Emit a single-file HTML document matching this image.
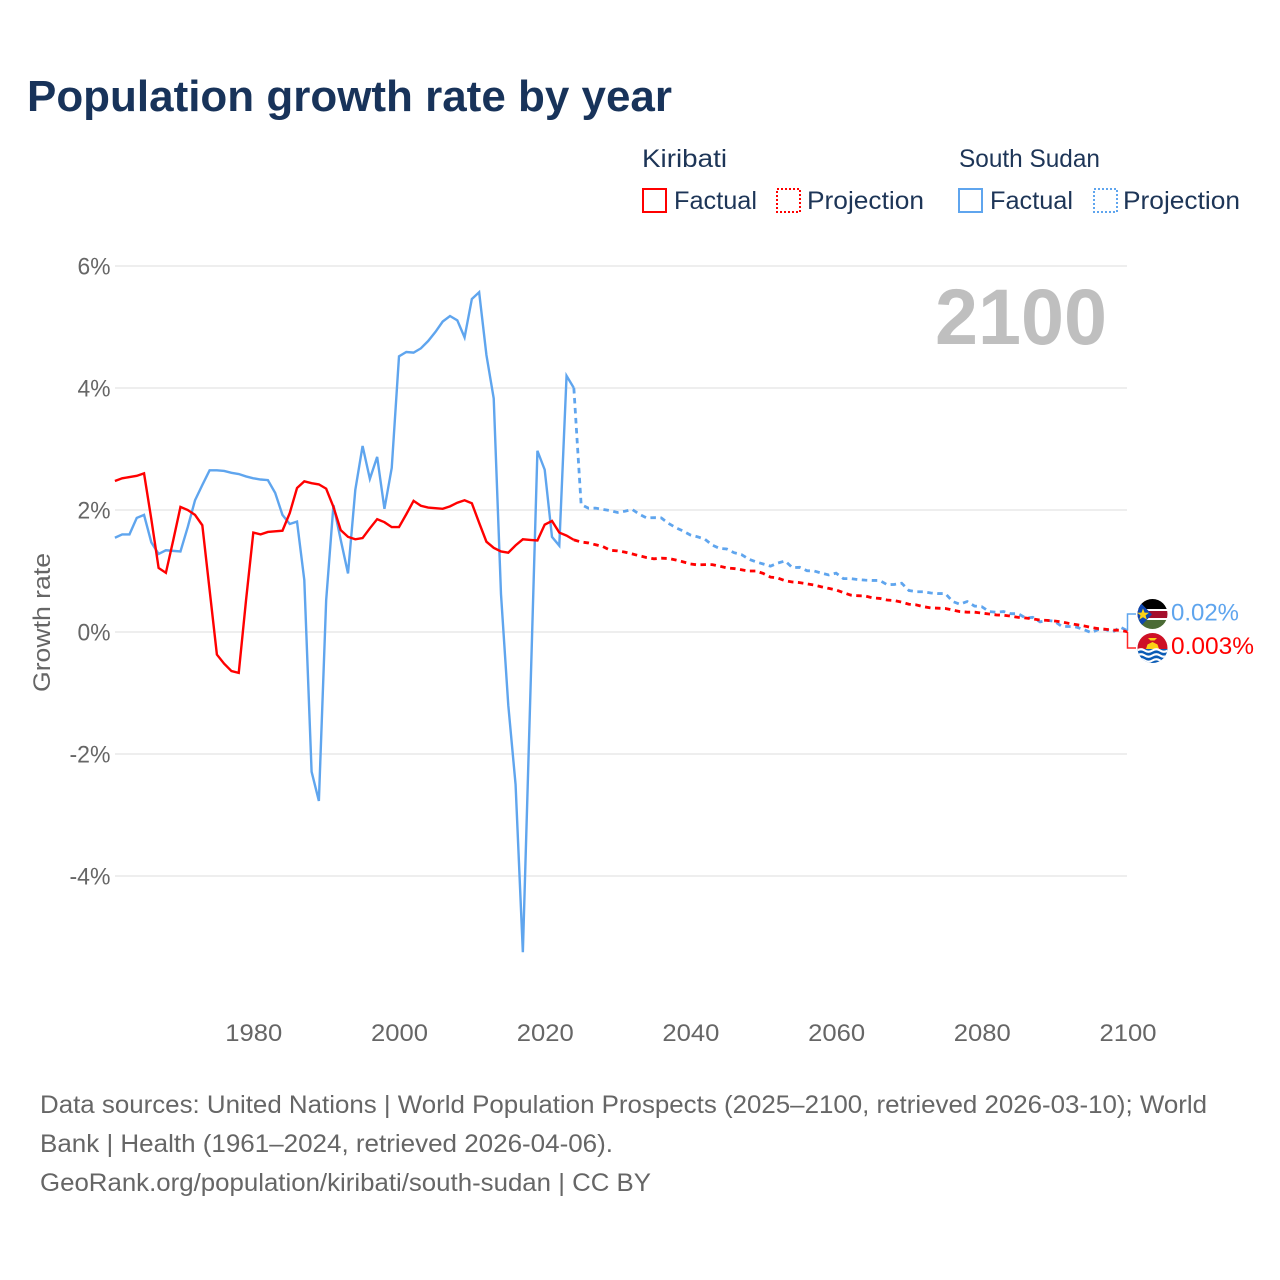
<!DOCTYPE html>
<html lang="en">
<head>
<meta charset="utf-8">
<title>Population growth rate by year</title>
<style>
html,body{margin:0;padding:0;background:#fff;width:1280px;height:1280px;overflow:hidden}
svg{display:block}
text{font-family:"Liberation Sans",sans-serif}
</style>
</head>
<body>
<svg id="chart" xmlns="http://www.w3.org/2000/svg" width="1280" height="1280" viewBox="0 0 1280 1280">
  <rect x="0" y="0" width="1280" height="1280" fill="#fff"/>
  <text x="27" y="111" font-size="44" font-weight="700" fill="#18335a" textLength="645" lengthAdjust="spacingAndGlyphs">Population growth rate by year</text>

  <g font-size="25" fill="#1d3557">
    <text x="642" y="167" textLength="85" lengthAdjust="spacingAndGlyphs">Kiribati</text>
    <rect x="643" y="189" width="23" height="23" fill="none" stroke="#ff0000" stroke-width="2"/>
    <text x="674" y="209" textLength="83" lengthAdjust="spacingAndGlyphs">Factual</text>
    <rect x="777" y="189" width="23" height="23" fill="none" stroke="#ff0000" stroke-width="2" stroke-dasharray="2 2"/>
    <text x="807" y="209" textLength="117" lengthAdjust="spacingAndGlyphs">Projection</text>
    <text x="959" y="167" textLength="141" lengthAdjust="spacingAndGlyphs">South Sudan</text>
    <rect x="959" y="189" width="23" height="23" fill="none" stroke="#5fa5ee" stroke-width="2"/>
    <text x="990" y="209" textLength="83" lengthAdjust="spacingAndGlyphs">Factual</text>
    <rect x="1094" y="189" width="23" height="23" fill="none" stroke="#5fa5ee" stroke-width="2" stroke-dasharray="2 2"/>
    <text x="1123" y="209" textLength="117" lengthAdjust="spacingAndGlyphs">Projection</text>
  </g>

  <g id="grid"></g>
  <g id="yTicks"></g>
  <g id="xTicks"></g>
  <text transform="translate(50,622.5) rotate(-90)" text-anchor="middle" font-size="24" fill="#666" textLength="139" lengthAdjust="spacingAndGlyphs">Growth rate</text>
  <text id="yearLabel" x="1107" y="344" text-anchor="end" font-size="79" font-weight="700" fill="#bfbfbf" textLength="172" lengthAdjust="spacingAndGlyphs">2100</text>

  <g id="series"></g>

  <g id="endLabels">
    <path id="connectorSS" fill="none" stroke="#5fa5ee" stroke-width="1.5"/>
    <path id="connectorKI" fill="none" stroke="#ff0000" stroke-opacity="0.85" stroke-width="1.5"/>
    <defs>
      <clipPath id="clipSS"><circle cx="1152.5" cy="614" r="15"/></clipPath>
      <clipPath id="clipKI"><circle cx="1152.5" cy="648" r="15"/></clipPath>
    </defs>
    <g clip-path="url(#clipSS)">
      <rect x="1137" y="599" width="31" height="10" fill="#000"/>
      <rect x="1137" y="609" width="31" height="2" fill="#fff"/>
      <rect x="1137" y="611" width="31" height="7" fill="#a50f2d"/>
      <rect x="1137" y="618" width="31" height="2" fill="#fff"/>
      <rect x="1137" y="620" width="31" height="10" fill="#4b6b35"/>
      <polygon points="1137,599 1152,614.5 1137,630" fill="#0f47af"/>
      <polygon points="1143,608.5 1144.6,612.6 1149,612.8 1145.6,615.4 1146.8,619.5 1143,617.2 1139.4,619.5 1140.5,615.4 1137.2,612.8 1141.5,612.6" fill="#fcd116"/>
    </g>
    <g clip-path="url(#clipKI)">
      <rect x="1137" y="633" width="31" height="17" fill="#ce1126"/>
      <rect x="1137" y="649" width="31" height="15" fill="#0a5bb5"/>
      <path d="M1146 649 L1159 649 L1157.5 644.5 L1152.5 642 L1147.5 644.5 Z" fill="#fcd116"/>
      <path d="M1148 638 L1157 638 L1154.5 640.5 L1150.5 640.5 Z" fill="#fcd116"/>
      <path d="M1137 650.5 q4 -2.5 7.7 0 t7.7 0 t7.7 0 t7.7 0" fill="none" stroke="#fff" stroke-width="2.2"/>
      <path d="M1137 655.5 q4 -2.5 7.7 0 t7.7 0 t7.7 0 t7.7 0" fill="none" stroke="#fff" stroke-width="2.2"/>
      <path d="M1137 660.5 q4 -2.5 7.7 0 t7.7 0 t7.7 0 t7.7 0" fill="none" stroke="#fff" stroke-width="2.2"/>
    </g>
    <text id="valueSS" x="1171" y="620.5" font-size="24" fill="#5fa5ee" textLength="68" lengthAdjust="spacingAndGlyphs"></text>
    <text id="valueKI" x="1171" y="654" font-size="24" fill="#ff0000" textLength="83" lengthAdjust="spacingAndGlyphs"></text>
  </g>

  <g font-size="25" fill="#666">
    <text x="40" y="1113" textLength="1167" lengthAdjust="spacingAndGlyphs">Data sources: United Nations | World Population Prospects (2025–2100, retrieved 2026-03-10); World</text>
    <text x="40" y="1152" textLength="573" lengthAdjust="spacingAndGlyphs">Bank | Health (1961–2024, retrieved 2026-04-06).</text>
    <text x="40" y="1191" textLength="611" lengthAdjust="spacingAndGlyphs">GeoRank.org/population/kiribati/south-sudan | CC BY</text>
  </g>
</svg>

<script>
const yTickValues = [6, 4, 2, 0, -2, -4];
const yTickLabels = ["6%", "4%", "2%", "0%", "-2%", "-4%"];
const xTickYears = [1980, 2000, 2020, 2040, 2060, 2080, 2100];
const xTickLabels = ["1980", "2000", "2020", "2040", "2060", "2080", "2100"];

const factualStartYear = 1961;
const projectionStartYear = 2024;

const kiribatiFactual = [
  2.475,2.52,2.54,2.56,2.60,
  1.85,1.05,0.97,1.50,2.05,
  2.00,1.92,1.75,0.69,-0.37,
  -0.52,-0.64,-0.67,0.52,1.63,
  1.60,1.64,1.65,1.66,1.95,
  2.36,2.47,2.44,2.42,2.35,
  2.05,1.67,1.56,1.52,1.54,
  1.70,1.85,1.80,1.72,1.72,
  1.93,2.15,2.07,2.04,2.03,
  2.02,2.06,2.12,2.16,2.11,
  1.79,1.48,1.38,1.32,1.30,
  1.42,1.52,1.51,1.50,1.76,
  1.82,1.63,1.58,1.51
];
const southSudanFactual = [
  1.545,1.60,1.60,1.87,1.92,
  1.47,1.28,1.34,1.33,1.32,
  1.72,2.16,2.41,2.65,2.65,
  2.64,2.61,2.59,2.55,2.52,
  2.50,2.49,2.28,1.92,1.77,
  1.81,0.85,-2.29,-2.77,0.52,
  2.08,1.51,0.96,2.33,3.05,
  2.51,2.87,2.02,2.69,4.52,
  4.59,4.58,4.65,4.77,4.92,
  5.09,5.18,5.11,4.83,5.46,
  5.57,4.54,3.83,0.62,-1.2,
  -2.5,-5.25,-1.15,2.97,2.66,
  1.56,1.415,4.2,4.0
];
const kiribatiProjection = [
  1.51,
  1.475,1.46,1.43,1.40,1.34,1.33,1.31,1.28,1.25,1.22,
  1.20,1.21,1.205,1.18,1.15,1.115,1.10,1.105,1.105,1.08,
  1.05,1.04,1.02,1.00,1.00,0.96,0.90,0.885,0.84,0.82,
  0.81,0.79,0.77,0.74,0.715,0.69,0.645,0.605,0.595,0.59,
  0.56,0.55,0.525,0.515,0.49,0.455,0.445,0.415,0.395,0.39,
  0.385,0.36,0.335,0.325,0.325,0.31,0.295,0.28,0.275,0.26,
  0.24,0.23,0.215,0.195,0.19,0.18,0.165,0.14,0.12,0.10,
  0.075,0.055,0.045,0.03,0.03,0.003
];
const southSudanProjection = [
  4.0,
  2.09,2.03,2.03,2.01,1.99,1.96,1.98,2.01,1.93,1.87,
  1.875,1.87,1.78,1.71,1.655,1.59,1.56,1.52,1.425,1.37,
  1.36,1.30,1.27,1.195,1.15,1.115,1.08,1.13,1.165,1.055,
  1.06,1.005,1.00,0.965,0.935,0.965,0.875,0.875,0.86,0.85,
  0.845,0.845,0.775,0.78,0.80,0.68,0.66,0.66,0.64,0.63,
  0.63,0.50,0.455,0.50,0.425,0.415,0.335,0.325,0.335,0.30,
  0.30,0.23,0.24,0.165,0.19,0.175,0.09,0.09,0.08,0.04,
  -0.01,0.04,0.04,0.00,0.08,0.02
];
const endValueLabels = { southSudan: "0.02%", kiribati: "0.003%" };

const NS = "http://www.w3.org/2000/svg";
const RED = "#ff0000";
const BLUE = "#5fa5ee";

function xScale(year) { return 114.9 + (year - 1961) * (1127.5 - 114.9) / 139; }
function yScale(v) { return 632 - v * 61; }

function svgEl(tag, parent) {
  const el = document.createElementNS(NS, tag);
  parent.appendChild(el);
  return el;
}

const gridGroup = document.getElementById("grid");
const yGroup = document.getElementById("yTicks");
const xGroup = document.getElementById("xTicks");
const seriesGroup = document.getElementById("series");

yTickValues.forEach(function (v, i) {
  const line = svgEl("line", gridGroup);
  
  
  line.setAttribute("x1", 115);
  line.setAttribute("x2", 1127);
  line.setAttribute("y1", yScale(v));
  line.setAttribute("y2", yScale(v));
  line.setAttribute("stroke", "#e9e9e9");
  line.setAttribute("stroke-width", "1.5");

  const label = svgEl("text", yGroup);
  
  
  label.setAttribute("x", 110.5);
  label.setAttribute("y", yScale(v) + 8.5);
  label.setAttribute("text-anchor", "end");
  label.setAttribute("font-size", "24");
  label.setAttribute("fill", "#666");
  label.setAttribute("textLength", yTickLabels[i].length === 3 ? 41 : 33);
  label.setAttribute("lengthAdjust", "spacingAndGlyphs");
  label.textContent = yTickLabels[i];
});

xTickYears.forEach(function (year, i) {
  const label = svgEl("text", xGroup);
  
  
  label.setAttribute("x", xScale(year) + 0.5);
  label.setAttribute("y", 1041);
  label.setAttribute("text-anchor", "middle");
  label.setAttribute("font-size", "24");
  label.setAttribute("fill", "#666");
  label.setAttribute("textLength", 57);
  label.setAttribute("lengthAdjust", "spacingAndGlyphs");
  label.textContent = xTickLabels[i];
});

function pointsFor(values, startYear) {
  return values.map(function (v, i) {
    return xScale(startYear + i).toFixed(2) + "," + yScale(v).toFixed(2);
  }).join(" ");
}

const southSudanFactualLine = svgEl("polyline", seriesGroup);


southSudanFactualLine.setAttribute("points", pointsFor(southSudanFactual, factualStartYear));
southSudanFactualLine.setAttribute("fill", "none");
southSudanFactualLine.setAttribute("stroke", BLUE);
southSudanFactualLine.setAttribute("stroke-width", "2.4");

const southSudanProjectionLine = svgEl("polyline", seriesGroup);


southSudanProjectionLine.setAttribute("points", pointsFor(southSudanProjection, projectionStartYear));
southSudanProjectionLine.setAttribute("fill", "none");
southSudanProjectionLine.setAttribute("stroke", BLUE);
southSudanProjectionLine.setAttribute("stroke-width", "2.8");
southSudanProjectionLine.setAttribute("stroke-dasharray", "5.5 4.5");

const kiribatiFactualLine = svgEl("polyline", seriesGroup);


kiribatiFactualLine.setAttribute("points", pointsFor(kiribatiFactual, factualStartYear));
kiribatiFactualLine.setAttribute("fill", "none");
kiribatiFactualLine.setAttribute("stroke", RED);
kiribatiFactualLine.setAttribute("stroke-width", "2.4");

const kiribatiProjectionLine = svgEl("polyline", seriesGroup);


kiribatiProjectionLine.setAttribute("points", pointsFor(kiribatiProjection, projectionStartYear));
kiribatiProjectionLine.setAttribute("fill", "none");
kiribatiProjectionLine.setAttribute("stroke", RED);
kiribatiProjectionLine.setAttribute("stroke-width", "2.8");
kiribatiProjectionLine.setAttribute("stroke-dasharray", "5.5 4.5");

const ssEndY = yScale(southSudanProjection[southSudanProjection.length - 1]);
const kiEndY = yScale(kiribatiProjection[kiribatiProjection.length - 1]);
document.getElementById("connectorSS").setAttribute("d", "M1127.5 " + ssEndY + " V614 H1136");
document.getElementById("connectorKI").setAttribute("d", "M1127.5 " + kiEndY + " V648 H1136");
document.getElementById("valueSS").textContent = endValueLabels.southSudan;
document.getElementById("valueKI").textContent = endValueLabels.kiribati;
</script>
</body>
</html>
